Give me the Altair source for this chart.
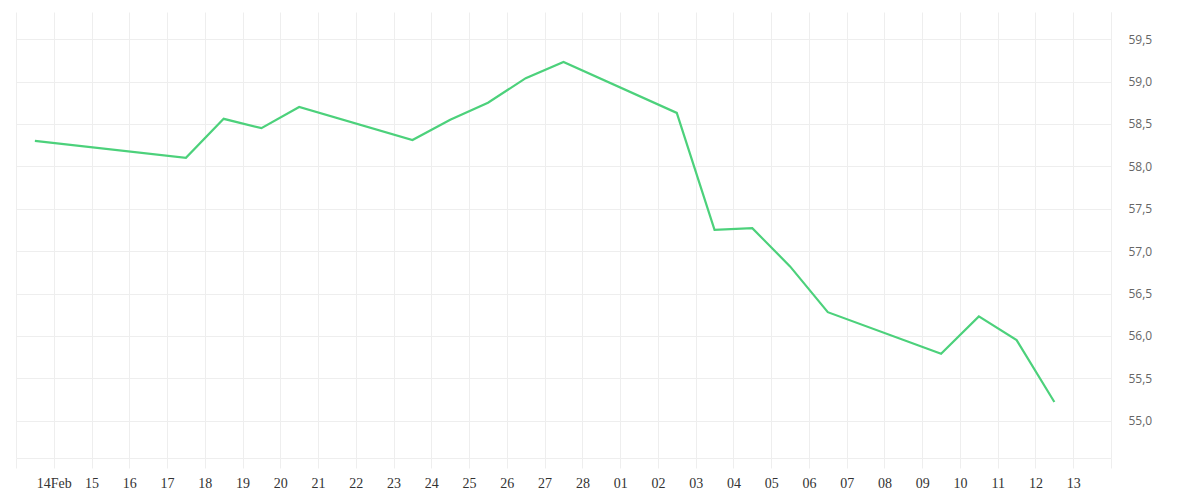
import altair as alt
import pandas as pd

dates = [
    "2026-02-13", "2026-02-17", "2026-02-18", "2026-02-19", "2026-02-20",
    "2026-02-23", "2026-02-24", "2026-02-25", "2026-02-26", "2026-02-27",
    "2026-03-02", "2026-03-03", "2026-03-04", "2026-03-05", "2026-03-06",
    "2026-03-09", "2026-03-10", "2026-03-11", "2026-03-12",
]
values = [
    58.30, 58.10, 58.56, 58.45, 58.70,
    58.31, 58.55, 58.75, 59.04, 59.23,
    58.63, 57.25, 57.27, 56.82, 56.28,
    55.79, 56.23, 55.95, 55.22,
]
y_ticks = [55.0, 55.5, 56.0, 56.5, 57.0, 57.5, 58.0, 58.5, 59.0, 59.5]

df = pd.DataFrame({"date": [d + "T12:00:00" for d in dates], "value": values})

grid = "#eeeeee"

chart = (
    alt.Chart(df)
    .mark_line(color="#4cd17b", strokeWidth=2.2)
    .encode(
        x=alt.X(
            "date:T",
            scale=alt.Scale(domain=["2026-02-13T00:00:00", "2026-03-14T00:00:00"], nice=False),
            axis=alt.Axis(
                title=None,
                tickCount={"interval": "day", "step": 1},
                labelExpr="(date(datum.value)==14 && month(datum.value)==1) ? '14Feb' : ((date(datum.value)==13 && month(datum.value)==1) || (date(datum.value)==14 && month(datum.value)==2)) ? '' : timeFormat(datum.value, '%d')",
                labelFont="Liberation Serif",
                labelFontSize=14,
                labelColor="#333333",
                labelFlush=False,
                labelOverlap=False,
                labelBound=False,
                labelPadding=8,
                tickSize=10,
                tickColor=grid,
                domainColor=grid,
                gridColor=grid,
                grid=True,
            ),
        ),
        y=alt.Y(
            "value:Q",
            scale=alt.Scale(domain=[54.56, 59.82], nice=False, zero=False),
            axis=alt.Axis(
                title=None,
                orient="right",
                values=y_ticks,
                labelExpr="replace(format(datum.value, '.1f'), '.', ',')",
                labelFont="Open Sans",
                labelFontSize=12,
                labelColor="#666666",
                ticks=False,
                labelPadding=17,
                domainColor=grid,
                gridColor=grid,
                grid=True,
            ),
        ),
    )
    .properties(width=1095, height=446, padding={"left": 7, "top": 4, "right": 5, "bottom": 5})
    .configure_view(stroke=None)
)

chart.save("out.html", embed_options={"renderer": "svg", "actions": False})
